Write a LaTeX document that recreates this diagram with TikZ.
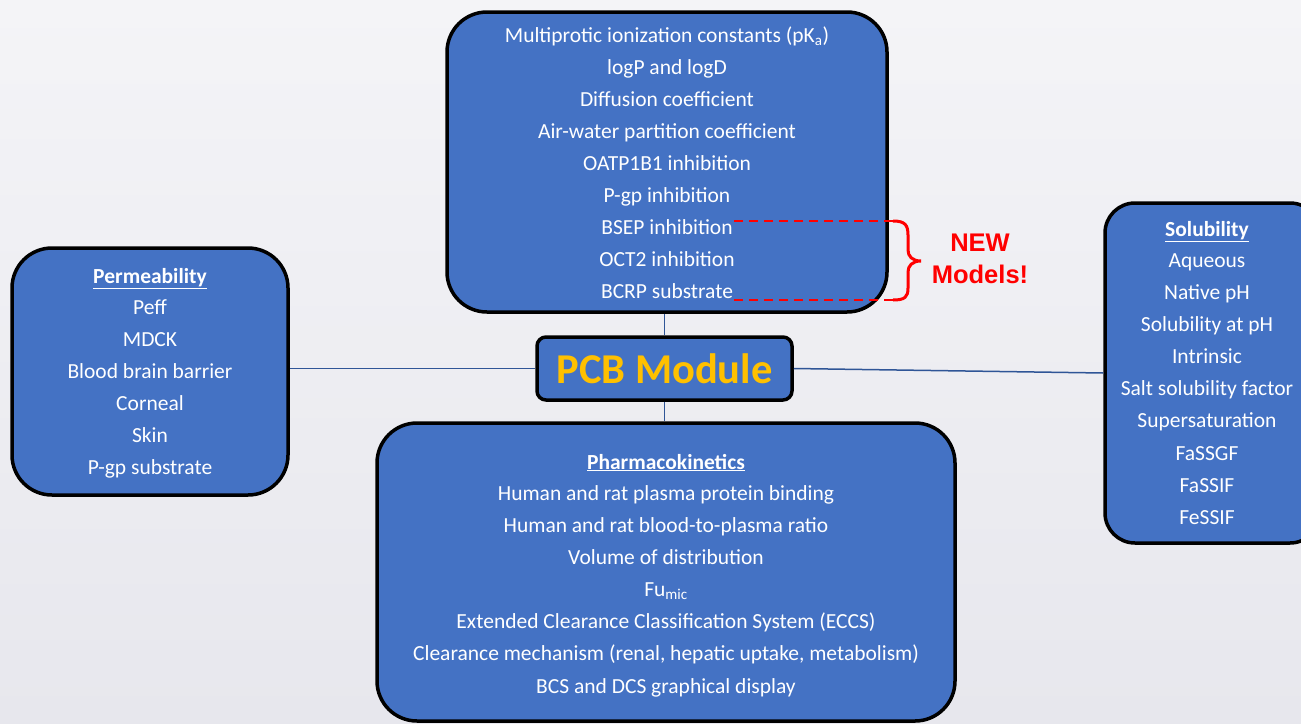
\documentclass[tikz,border=0pt]{standalone}
\usepackage{fontspec}
\setmainfont{Carlito}
\newfontfamily\redlabelfont{Liberation Sans}
\definecolor{boxblue}{HTML}{4472C4}
\definecolor{linkblue}{HTML}{2F5597}
\definecolor{pcborange}{HTML}{FFC000}
\definecolor{bgtop}{HTML}{F4F4F7}
\definecolor{bgbot}{HTML}{E7E7ED}
\tikzset{
  bigbox/.style={draw=black, line width=3.5pt, fill=boxblue, rounded corners=40pt, inner sep=0pt},
  txt/.style={text=white, font=\fontsize{21.5}{24}\selectfont, inner sep=0pt, text height=15pt, text depth=5pt},
  link/.style={draw=linkblue, line width=1.5pt},
  newdash/.style={draw=red, line width=2.5pt, dash pattern=on 9pt off 6pt},
}
\begin{document}
\begin{tikzpicture}[x=1pt,y=-1pt]
\useasboundingbox (0,0) rectangle (1301,723);
\clip (0,0) rectangle (1301,723);
\shade[top color=bgtop, bottom color=bgbot] (0,0) rectangle (1301,723);

% boxes
\node[bigbox, minimum width=440pt, minimum height=300pt] (top) at (667,162) {};
\node[bigbox, minimum width=276pt, minimum height=247pt] (perm) at (150,371.5) {};
\node[bigbox, minimum width=215pt, minimum height=340pt, rounded corners=30pt] (sol) at (1212.5,373) {};
\node[bigbox, minimum width=578pt, minimum height=298pt] (pk) at (666,572) {};
\node[draw=black, line width=3.5pt, fill=boxblue, rounded corners=9pt, minimum width=255pt, minimum height=63pt, text=pcborange, font=\fontsize{42.5}{46}\selectfont\bfseries] (pcb) at (664.5,368.5) {PCB Module};

% connectors
\draw[link] (pcb.north) -- (top.south -| pcb.north);
\draw[link] (pcb.south) -- (pk.north -| pcb.south);
\draw[link] (pcb.west) -- (perm.east |- pcb.west);
\draw[link] (pcb.east) -- (sol.west);

% top box text
\node[txt] (t1) at (667,37) {Multiprotic ionization constants (pK\textsubscript{a})};
\node[txt] (t2) at (667,69) {logP and logD};
\node[txt] (t3) at (667,101) {Diffusion coefficient};
\node[txt] (t4) at (667,133) {Air-water partition coefficient};
\node[txt] (t5) at (667,165) {OATP1B1 inhibition};
\node[txt] (t6) at (667,197) {P-gp inhibition};
\node[txt] (t7) at (667,229) {BSEP inhibition};
\node[txt] (t8) at (667,261) {OCT2 inhibition};
\node[txt] (t9) at (667,293) {BCRP substrate};

% left box
\node[txt] (p0) at (150,278) {\bfseries\underline{Permeability}};
\node[txt] (p1) at (150,309) {Peff};
\node[txt] (p2) at (150,341) {MDCK};
\node[txt] (p3) at (150,373) {Blood brain barrier};
\node[txt] (p4) at (150,405) {Corneal};
\node[txt] (p5) at (150,437) {Skin};
\node[txt] (p6) at (150,469) {P-gp substrate};

% right box
\node[txt] (s0) at (1207,231) {\bfseries\underline{Solubility}};
\node[txt] (s1) at (1207,262) {Aqueous};
\node[txt] (s2) at (1207,294) {Native pH};
\node[txt] (s3) at (1207,326) {Solubility at pH};
\node[txt] (s4) at (1207,358) {Intrinsic};
\node[txt] (s5) at (1207,390) {Salt solubility factor};
\node[txt] (s6) at (1207,422) {Supersaturation};
\node[txt] (s7) at (1207,455) {FaSSGF};
\node[txt] (s8) at (1207,487) {FaSSIF};
\node[txt] (s9) at (1207,519) {FeSSIF};

% bottom box
\node[txt] (k0) at (666,464) {\bfseries\underline{Pharmacokinetics}};
\node[txt] (k1) at (666,495) {Human and rat plasma protein binding};
\node[txt] (k2) at (666,527) {Human and rat blood-to-plasma ratio};
\node[txt] (k3) at (666,559) {Volume of distribution};
\node[txt] (k4) at (666,591) {Fu\textsubscript{mic}};
\node[txt] (k5) at (666,623) {Extended Clearance Classification System (ECCS)};
\node[txt] (k6) at (666,655) {Clearance mechanism (renal, hepatic uptake, metabolism)};
\node[txt] (k7) at (666,688) {BCS and DCS graphical display};

% new models marker
\coordinate (d1a) at (734,221);
\coordinate (d1b) at (893,221);
\coordinate (d2a) at (734,300);
\coordinate (d2b) at (893,300);
\draw[newdash] (d1a) -- (d1b);
\draw[newdash] (d2a) -- (d2b);
\draw[red, line width=3pt] (d1b) .. controls (905,221) and (908,225) .. (908,235) -- (908,250) .. controls (908,256) and (912,261) .. (921,261) .. controls (912,261) and (908,266) .. (908,272) -- (908,288) .. controls (908,297) and (905,300) .. (d2b);
\node[text=red, font=\redlabelfont\fontsize{25.5}{32}\selectfont\bfseries, align=center, inner sep=0pt] (new) at (980,259) {NEW\\Models!};
\end{tikzpicture}
\end{document}
